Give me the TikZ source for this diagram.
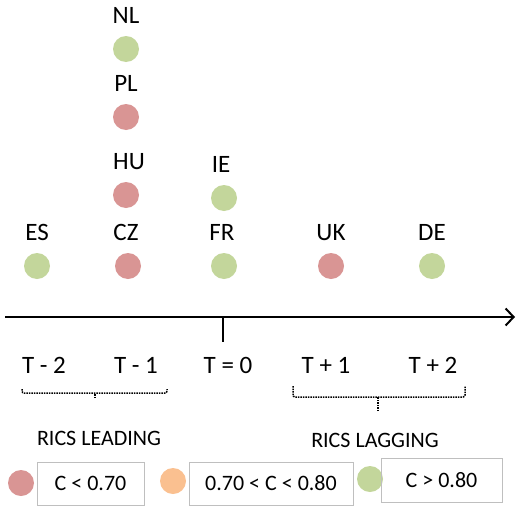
\documentclass[tikz,border=0pt]{standalone}
\usepackage{fontspec}
\setmainfont{Carlito}
\usetikzlibrary{positioning,arrows.meta}
\definecolor{ricsRed}{HTML}{D99594}
\definecolor{ricsGreen}{HTML}{C3D69B}
\definecolor{ricsOrange}{HTML}{FAC090}
\definecolor{boxGray}{HTML}{BFBFBF}

\begin{document}
\begin{tikzpicture}[x=1pt, y=-1pt, >={Straight Barb[length=8pt,width=17pt]},
    dot/.style={circle, minimum size=26pt, inner sep=0pt},
    ctry/.style={font=\fontsize{25}{30}\selectfont, inner sep=0pt},
    tlbl/.style={font=\fontsize{25}{30}\selectfont, inner sep=0pt},
    small/.style={font=\fontsize{22}{26}\selectfont, inner sep=0pt},
    keybox/.style={draw=boxGray, line width=0.8pt, minimum height=43pt, inner sep=2pt, font=\fontsize{22}{26}\selectfont},
    brk/.style={densely dotted, line width=1.5pt, rounded corners=2pt}]
  \useasboundingbox (0,0) rectangle (516,506);
  % countries
  \node[dot, fill=ricsGreen] (nl) at (126,49) {};
  \node[dot, fill=ricsRed] (pl) at (126,117) {};
  \node[dot, fill=ricsRed] (hu) at (126,195) {};
  \node[dot, fill=ricsGreen] (ie) at (224,198) {};
  \node[dot, fill=ricsGreen] (es) at (37,266) {};
  \node[dot, fill=ricsRed] (cz) at (128,266) {};
  \node[dot, fill=ricsGreen] (fr) at (224,266) {};
  \node[dot, fill=ricsRed] (uk) at (331,266) {};
  \node[dot, fill=ricsGreen] (de) at (432,266) {};
  \node[ctry, above=12pt of nl] (nl-l) {NL};
  \node[ctry, above=12pt of pl] (pl-l) {PL};
  \node[ctry, above=12pt of hu, xshift=3pt] (hu-l) {HU};
  \node[ctry, above=12pt of ie, xshift=-3pt] (ie-l) {IE};
  \node[ctry, above=12pt of es] (es-l) {ES};
  \node[ctry, above=12pt of cz, xshift=-2pt] (cz-l) {CZ};
  \node[ctry, above=12pt of fr, xshift=-2pt] (fr-l) {FR};
  \node[ctry, above=12pt of uk] (uk-l) {UK};
  \node[ctry, above=12pt of de] (de-l) {DE};
  % time axis
  \coordinate (axL) at (5,317);
  \coordinate (axR) at (515,317);
  \coordinate (t0) at (223,317);
  \coordinate (t0b) at (223,342);
  \draw[->, line width=2pt] (axL) -- (axR);
  \draw[line width=2pt] (t0) -- (t0b);
  \node[tlbl] (tm2) at (44,365) {T - 2};
  \node[tlbl] (tm1) at (136,365) {T - 1};
  \node[tlbl] (tz) at (228,365) {T = 0};
  \node[tlbl] (tp1) at (326,365) {T + 1};
  \node[tlbl] (tp2) at (433,365) {T + 2};
  % brackets
  \coordinate (leadL) at (22,389);
  \coordinate (leadR) at (167,389);
  \coordinate (leadM) at (95,398);
  \coordinate (lagL) at (293,386);
  \coordinate (lagR) at (465,386);
  \coordinate (lagM) at (378,411);
  \draw[brk] (leadL) -- ++(0,4) -| (leadR);
  \draw[brk] (leadM) -- ++(0,-5);
  \draw[brk] (lagL) -- ++(0,11) -| (lagR);
  \draw[brk] (lagM) -- ++(0,-14);
  \node[small] (lead) at (99,438) {RICS LEADING};
  \node[small] (lag) at (375,440) {RICS LAGGING};
  % legend
  \node[dot, fill=ricsRed] (k1) at (21,483) {};
  \node[keybox, minimum width=107pt] (b1) at (90.5,483.5) {C < 0.70};
  \node[dot, fill=ricsOrange] (k2) at (173,481) {};
  \node[keybox, minimum width=164pt] (b2) at (271,483.5) {0.70 < C < 0.80};
  \node[dot, fill=ricsGreen] (k3) at (370,479) {};
  \node[keybox, minimum width=121pt, minimum height=44pt] (b3) at (441.5,480) {C > 0.80};
\end{tikzpicture}
\end{document}
